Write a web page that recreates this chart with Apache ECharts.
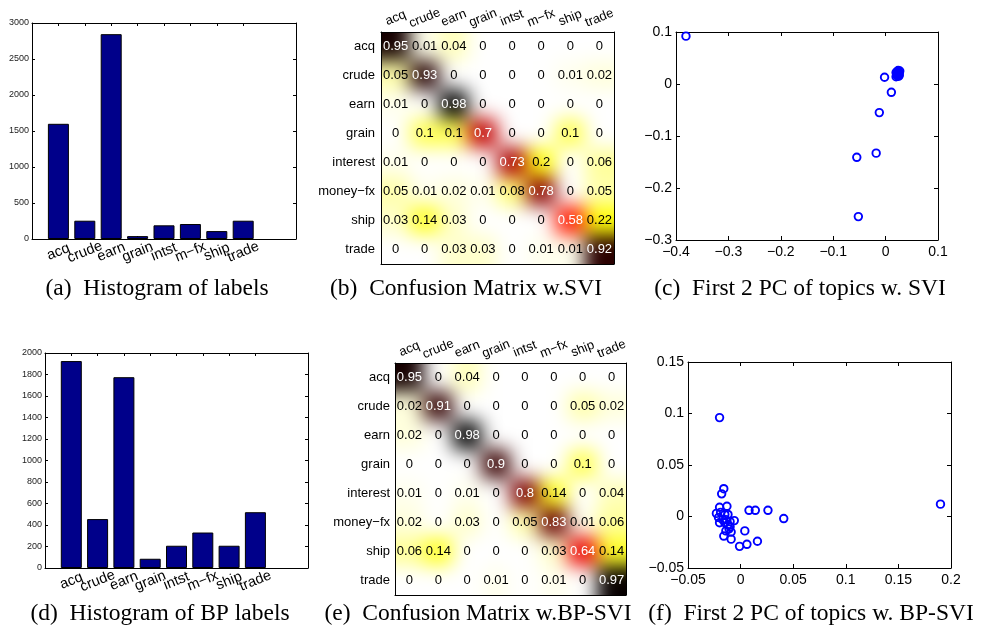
<!DOCTYPE html>
<html>
<head>
<meta charset="utf-8">
<title>Topic figure</title>
<script src="https://cdn.jsdelivr.net/npm/echarts@6/dist/echarts.min.js"></script>
<style>
    body { margin: 0; background: #fff; }
    #container { position: relative; width: 981px; height: 632px; overflow: hidden; }
    .blurbox { position: absolute; overflow: hidden; z-index: 1; }
    .blurbox div { position: absolute; filter: blur(7px); }
    #main { position: absolute; left: 0; top: 0; width: 981px; height: 632px; z-index: 2; }
</style>
</head>
<body>
<div id="container">
    <div class="blurbox" id="boxB"><div></div></div>
    <div class="blurbox" id="boxE"><div></div></div>
    <div id="main"></div>
</div>
<script>
const FONT = "Liberation Sans"
const SERIF = "Liberation Serif"

// histogram labels
const histCats = ["acq", "crude", "earn", "grain", "intst", "m\u2212fx", "ship", "trade"]
const histSVI = [1600, 254, 2845, 40, 190, 208, 110, 254]
const histBP = [1925, 455, 1775, 86, 207, 330, 207, 519]

// confusion matrices
const cmRows = ["acq", "crude", "earn", "grain", "interest", "money\u2212fx", "ship", "trade"]
const cmCols = histCats
const cmSVI = [
    [0.95, 0.01, 0.04, 0, 0, 0, 0, 0],
    [0.05, 0.93, 0, 0, 0, 0, 0.01, 0.02],
    [0.01, 0, 0.98, 0, 0, 0, 0, 0],
    [0, 0.1, 0.1, 0.7, 0, 0, 0.1, 0],
    [0.01, 0, 0, 0, 0.73, 0.2, 0, 0.06],
    [0.05, 0.01, 0.02, 0.01, 0.08, 0.78, 0, 0.05],
    [0.03, 0.14, 0.03, 0, 0, 0, 0.58, 0.22],
    [0, 0, 0.03, 0.03, 0, 0.01, 0.01, 0.92]
]
const cmBP = [
    [0.95, 0, 0.04, 0, 0, 0, 0, 0],
    [0.02, 0.91, 0, 0, 0, 0, 0.05, 0.02],
    [0.02, 0, 0.98, 0, 0, 0, 0, 0],
    [0, 0, 0, 0.9, 0, 0, 0.1, 0],
    [0.01, 0, 0.01, 0, 0.8, 0.14, 0, 0.04],
    [0.02, 0, 0.03, 0, 0.05, 0.83, 0.01, 0.06],
    [0.06, 0.14, 0, 0, 0, 0.03, 0.64, 0.14],
    [0, 0, 0, 0.01, 0, 0.01, 0, 0.97]
]
// flipped "hot" colormap
const hotColors = ["#ffffff", "#ffff30", "#ffff00", "#ffaa00", "#ff5500", "#ff0000", "#aa0000", "#550000", "#000000"]

// first 2 principal components of topics
const pcSVI = [
    [-0.381, 0.092], [-0.002, 0.013], [0.011, -0.016], [-0.012, -0.055],
    [-0.018, -0.133], [-0.055, -0.141], [-0.052, -0.255],
    [0.020, 0.014], [0.022, 0.016], [0.024, 0.018], [0.026, 0.020], [0.021, 0.019],
    [0.023, 0.021], [0.025, 0.023], [0.027, 0.025], [0.022, 0.024], [0.024, 0.026],
    [0.026, 0.017], [0.020, 0.022], [0.025, 0.015]
]
const pcBP = [
    [-0.020, 0.096], [0.190, 0.012], [0.041, -0.002], [0.026, 0.006], [0.014, 0.006],
    [0.008, 0.006], [0.004, -0.014], [0.016, -0.024], [0.006, -0.027], [-0.001, -0.029],
    [-0.009, -0.022], [-0.016, -0.019], [-0.016, 0.027], [-0.018, 0.022], [-0.013, 0.010],
    [-0.020, 0.009], [-0.023, 0.003], [-0.019, 0.004], [-0.015, 0.002], [-0.012, 0.002],
    [-0.021, -0.001], [-0.017, -0.003], [-0.014, -0.003], [-0.020, -0.006], [-0.015, -0.006],
    [-0.010, -0.005], [-0.006, -0.004], [-0.012, -0.008], [-0.010, -0.010], [-0.011, -0.012],
    [-0.014, -0.014], [-0.009, -0.015]
]

const captions = [
    { text: "(a)  Histogram of labels", x: 157, y: 277 },
    { text: "(b)  Confusion Matrix w.SVI", x: 466, y: 277 },
    { text: "(c)  First 2 PC of topics w. SVI", x: 800, y: 277 },
    { text: "(d)  Histogram of BP labels", x: 160, y: 602 },
    { text: "(e)  Confusion Matrix w.BP-SVI", x: 478, y: 602 },
    { text: "(f)  First 2 PC of topics w. BP-SVI", x: 811, y: 602 }
]

let grids = []
let xAxes = []
let yAxes = []
let series = []

const axisLine = { show: true, onZero: false, lineStyle: { color: "#000", width: 1 } }
function ticks(len, extra) {
    return Object.assign({ show: true, inside: true, length: len, lineStyle: { color: "#000", width: 1 } }, extra || {})
}
function fmt(v) {
    return String(Math.round(v * 1000) / 1000).replace("-", "\u2212")
}
function addGrid(rect) {
    grids.push(Object.assign({ containLabel: false, outerBoundsMode: "none" }, rect))
    return grids.length - 1
}

function addHistogram(rect, values, yMax, yStep) {
    let g = addGrid(rect)
    // slots 0..10, bars sit on slots 1..8 (matlab xlim [0 10])
    let slots = [""].concat(histCats, ["", ""])
    let onBar = i => i >= 1 && i <= histCats.length
    let xi = xAxes.length
    let yi = yAxes.length
    let xBase = { type: "category", gridIndex: g, data: slots, boundaryGap: false, splitLine: { show: false }, axisLine: axisLine }
    xAxes.push(Object.assign({}, xBase, {
        position: "bottom",
        axisTick: ticks(3, { interval: onBar }),
        axisLabel: {
            interval: 0, rotate: 22, align: "center", verticalAlign: "middle", margin: 13,
            fontSize: 14.5, color: "#000", fontFamily: FONT
        }
    }))
    xAxes.push(Object.assign({}, xBase, { position: "top", axisTick: ticks(3, { interval: onBar }), axisLabel: { show: false } }))
    let yBase = { type: "value", gridIndex: g, min: 0, max: yMax, interval: yStep, splitLine: { show: false }, axisLine: axisLine }
    yAxes.push(Object.assign({}, yBase, {
        position: "left", axisTick: ticks(3),
        axisLabel: { formatter: v => String(v), margin: 3, fontSize: 9, color: "#222", fontFamily: FONT, showMinLabel: true, showMaxLabel: true }
    }))
    yAxes.push(Object.assign({}, yBase, { position: "right", axisTick: ticks(3), axisLabel: { show: false } }))
    series.push({
        type: "bar", xAxisIndex: xi, yAxisIndex: yi,
        data: values.map((v, i) => [i + 1, v]),
        barWidth: 21,
        itemStyle: { color: "#00008a", borderColor: "#000", borderWidth: 1 },
        silent: true
    })
}

function addMatrix(rect, matrix, rowMargin) {
    let g = addGrid(rect)
    let xi = xAxes.length
    let yi = yAxes.length
    let xBase = { type: "category", gridIndex: g, data: cmCols, axisLine: axisLine, axisTick: { show: false }, splitLine: { show: false } }
    xAxes.push(Object.assign({}, xBase, {
        position: "top",
        axisLabel: { interval: 0, rotate: -22, align: "center", verticalAlign: "middle", margin: 14, fontSize: 13, color: "#000", fontFamily: FONT }
    }))
    xAxes.push(Object.assign({}, xBase, { position: "bottom", axisLabel: { show: false } }))
    let yBase = { type: "category", gridIndex: g, data: cmRows, inverse: true, axisLine: axisLine, axisTick: { show: false }, splitLine: { show: false } }
    yAxes.push(Object.assign({}, yBase, {
        position: "left",
        axisLabel: { interval: 0, margin: rowMargin, fontSize: 13, color: "#000", fontFamily: FONT }
    }))
    yAxes.push(Object.assign({}, yBase, { position: "right", axisLabel: { show: false } }))
    let cells = []
    matrix.forEach((row, i) => row.forEach((v, j) => {
        cells.push({ value: [j, i, v], label: { color: v >= 0.5 ? "#fff" : "#000" } })
    }))
    series.push({
        type: "heatmap", xAxisIndex: xi, yAxisIndex: yi, data: cells,
        itemStyle: { color: "rgba(0,0,0,0)" },
        label: { show: true, formatter: p => String(p.value[2]), fontSize: 13, fontFamily: FONT },
        emphasis: { disabled: true }, silent: true
    })
}

function addScatter(rect, points, xr, yr) {
    let g = addGrid(rect)
    let xi = xAxes.length
    let yi = yAxes.length
    let xBase = { type: "value", gridIndex: g, min: xr[0], max: xr[1], interval: xr[2], splitLine: { show: false }, axisLine: axisLine, axisTick: ticks(4) }
    xAxes.push(Object.assign({}, xBase, {
        position: "bottom",
        axisLabel: { formatter: fmt, margin: 5, fontSize: 14, color: "#000", fontFamily: FONT, showMinLabel: true, showMaxLabel: true }
    }))
    xAxes.push(Object.assign({}, xBase, { position: "top", axisLabel: { show: false } }))
    let yBase = { type: "value", gridIndex: g, min: yr[0], max: yr[1], interval: yr[2], splitLine: { show: false }, axisLine: axisLine, axisTick: ticks(4) }
    yAxes.push(Object.assign({}, yBase, {
        position: "left",
        axisLabel: { formatter: fmt, margin: 4, fontSize: 14, color: "#000", fontFamily: FONT, showMinLabel: true, showMaxLabel: true }
    }))
    yAxes.push(Object.assign({}, yBase, { position: "right", axisLabel: { show: false } }))
    series.push({
        type: "scatter", xAxisIndex: xi, yAxisIndex: yi, data: points,
        symbol: "circle", symbolSize: 7.5,
        itemStyle: { color: "rgba(0,0,0,0)", borderColor: "#0000ff", borderWidth: 1.9, opacity: 1 },
        silent: true
    })
}

const rectA = { left: 32, top: 23, width: 264, height: 216 }
const rectB = { left: 381, top: 32, width: 233, height: 232 }
const rectC = { left: 676, top: 32, width: 262, height: 208 }
const rectD = { left: 45, top: 353, width: 263, height: 215 }
const rectE = { left: 395, top: 363, width: 231, height: 232 }
const rectF = { left: 688, top: 362, width: 263, height: 206 }

addHistogram(rectA, histSVI, 3000, 500)
addMatrix(rectB, cmSVI, 6)
addScatter(rectC, pcSVI, [-0.4, 0.1, 0.1], [-0.3, 0.1, 0.1])
addHistogram(rectD, histBP, 2000, 200)
addMatrix(rectE, cmBP, 5)
addScatter(rectF, pcBP, [-0.05, 0.2, 0.05], [-0.05, 0.15, 0.05])

// blurred colour layer behind each confusion matrix
function drawBlur(id, matrix, rect) {
    let box = document.getElementById(id)
    box.style.left = rect.left + "px"
    box.style.top = rect.top + "px"
    box.style.width = rect.width + "px"
    box.style.height = rect.height + "px"
    let n = matrix.length
    let cw = rect.width / n
    let ch = rect.height / n
    let inner = box.firstElementChild
    inner.style.left = -cw + "px"
    inner.style.top = -ch + "px"
    inner.style.width = (rect.width + 2 * cw) + "px"
    inner.style.height = (rect.height + 2 * ch) + "px"
    let clamp = k => Math.min(n - 1, Math.max(0, k))
    let cells = []
    let names = []
    for (let i = 0; i < n + 2; i++) {
        names.push("c" + i)
        for (let j = 0; j < n + 2; j++) {
            cells.push([j, i, matrix[clamp(i - 1)][clamp(j - 1)]])
        }
    }
    let maxVal = Math.max(...matrix.map(r => Math.max(...r)))
    let chart = echarts.init(inner)
    chart.setOption({
        animation: false,
        grid: { left: 0, right: 0, top: 0, bottom: 0, containLabel: false, outerBoundsMode: "none" },
        xAxis: { type: "category", data: names, show: false },
        yAxis: { type: "category", data: names, inverse: true, show: false },
        visualMap: { show: false, min: 0, max: maxVal, inRange: { color: hotColors } },
        series: [{ type: "heatmap", data: cells, silent: true }]
    })
}
drawBlur("boxB", cmSVI, rectB)
drawBlur("boxE", cmBP, rectE)

let myChart = echarts.init(document.getElementById("main"))
myChart.setOption({
    animation: false,
    backgroundColor: "transparent",
    grid: grids,
    xAxis: xAxes,
    yAxis: yAxes,
    series: series,
    graphic: captions.map(c => ({
        type: "text", x: c.x, y: c.y, silent: true,
        style: {
            text: c.text, fill: "#000", font: "23.5px '" + SERIF + "'",
            textAlign: "center", textVerticalAlign: "top", align: "center", verticalAlign: "top"
        }
    }))
})
</script>
</body>
</html>
